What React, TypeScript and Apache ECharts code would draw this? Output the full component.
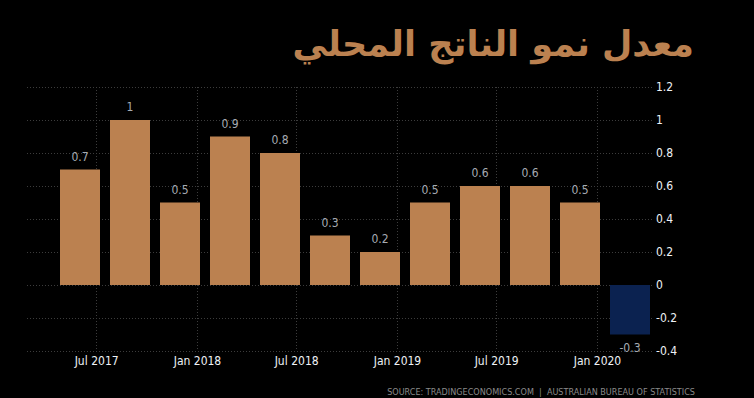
import React, { useEffect, useRef } from "react";
import * as echarts from "echarts";

const quarters = ["Q2 2017", "Q3 2017", "Q4 2017", "Q1 2018", "Q2 2018", "Q3 2018", "Q4 2018", "Q1 2019", "Q2 2019", "Q3 2019", "Q4 2019", "Q1 2020"];
const growth = [0.7, 1, 0.5, 0.9, 0.8, 0.3, 0.2, 0.5, 0.6, 0.6, 0.5, -0.3];
const tickDates = ["2017-07-01", "2018-01-01", "2018-07-01", "2019-01-01", "2019-07-01", "2020-01-01"];
const tickLabels = ["Jul 2017", "Jan 2018", "Jul 2018", "Jan 2019", "Jul 2019", "Jan 2020"];
const timeRange = ["2017-04-16", "2020-04-15"];
const titleText = "معدل نمو الناتج المحلي";
const sourceText = "SOURCE: TRADINGECONOMICS.COM  |  AUSTRALIAN BUREAU OF STATISTICS";

const toTs = (s: string) => new Date(s + "T00:00:00").getTime();
const tickTs = tickDates.map(toTs);

const NARROW = "'Liberation Sans Narrow', 'DejaVu Sans Condensed', sans-serif";

export default function App() {
  const ref = useRef<HTMLDivElement>(null);
  useEffect(() => {
    if (!ref.current) return;
    const chart = echarts.init(ref.current, undefined, { renderer: "svg" });
    const yCommon = { type: "value", min: -0.4, max: 1.2, interval: 0.2 };
    chart.setOption({
      animation: false,
      backgroundColor: "#000000",
      grid: [
        { left: 27, right: 102, top: 87, height: 264 },
        { left: 55, right: 99, top: 87, height: 264 },
      ],
      xAxis: [
        { type: "category", gridIndex: 0, data: quarters, show: false },
        { type: "category", gridIndex: 1, data: quarters, show: false },
        {
          type: "value",
          gridIndex: 1,
          position: "bottom",
          min: toTs(timeRange[0]),
          max: toTs(timeRange[1]),
          axisLine: { show: false },
          axisTick: { show: false, customValues: tickTs },
          axisLabel: {
            customValues: tickTs,
            margin: 4,
            color: "#eef2f6",
            fontSize: 12,
            fontFamily: NARROW,
            formatter: (v: number) => {
              const i = tickTs.findIndex((t) => Math.abs(t - v) < 86400000);
              return i >= 0 ? tickLabels[i] : "";
            },
          },
          splitLine: { show: true, lineStyle: { color: "#3c3c3c", type: [1, 2], width: 1 } },
        },
      ],
      yAxis: [
        {
          ...yCommon,
          gridIndex: 0,
          axisLabel: { show: false },
          axisLine: { show: false },
          axisTick: { show: false },
          splitLine: { show: true, lineStyle: { color: "#3c3c3c", type: [1, 2], width: 1 } },
        },
        {
          ...yCommon,
          gridIndex: 1,
          position: "right",
          axisLine: { show: false },
          axisTick: { show: false },
          splitLine: { show: false },
          axisLabel: { margin: 1, color: "#eef2f6", fontSize: 12, fontFamily: NARROW },
        },
      ],
      series: [
        {
          type: "bar",
          xAxisIndex: 1,
          yAxisIndex: 1,
          barWidth: 40,
          data: growth.map((v) => ({
            value: v,
            itemStyle: { color: v >= 0 ? "#bb8150" : "#0b2250" },
            label: { position: v >= 0 ? "top" : "bottom" },
          })),
          label: {
            show: true,
            distance: 7,
            color: "#a6abb2",
            fontSize: 12,
            fontFamily: NARROW,
          },
        },
      ],
      graphic: [
        {
          type: "text",
          style: {
            text: titleText,
            x: 694,
            y: 44,
            textAlign: "right",
            textVerticalAlign: "middle",
            fontSize: 35,
            fontWeight: "bold",
            fontFamily: "'DejaVu Sans', sans-serif",
            fill: "#bb8150",
          },
        },
        {
          type: "text",
          style: {
            text: sourceText,
            x: 695,
            y: 392,
            textAlign: "right",
            textVerticalAlign: "middle",
            fontSize: 9,
            fontFamily: NARROW,
            fill: "#8a8a8a",
          },
        },
      ],
    });
    return () => chart.dispose();
  }, []);
  return <div ref={ref} style={{ position: "fixed", left: 0, top: 0, width: 754, height: 398 }} />;
}
